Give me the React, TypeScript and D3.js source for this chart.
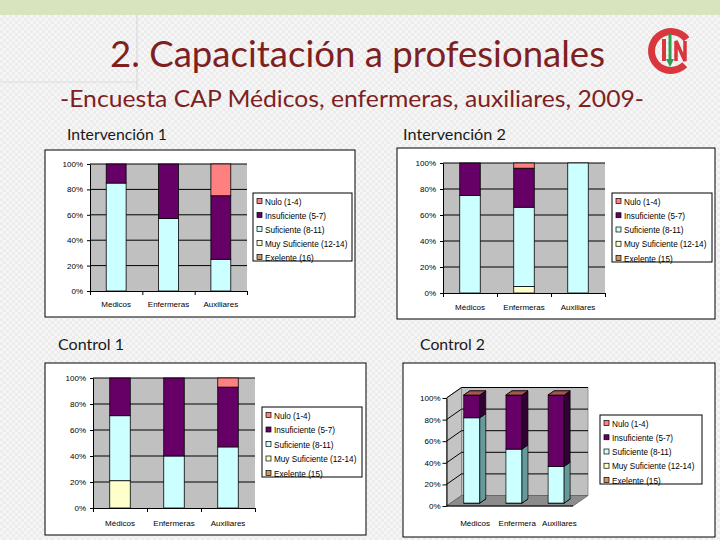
import { useEffect, useRef } from "react";
import * as d3 from "d3";

// stack order, bottom -> top (Excel series order)
const levelKeys = ["exelente", "muySuficiente", "suficiente", "insuficiente", "nulo"];
const levelColors = ["#cc9966", "#ffffcc", "#ccffff", "#660066", "#ff8080"];
const sideColors = ["#8f6b47", "#b3b38f", "#669999", "#330033", "#b35959"];
const topColors = ["#b38659", "#e6e6b8", "#99cccc", "#4d004d", "#a85454"];

// legend reads top -> bottom: Nulo first
const legendLabels1 = ["Nulo (1-4)", "Insuficiente (5-7)", "Suficiente (8-11)", "Muy Suficiente (12-14)", "Exelente (16)"];
const legendLabels = ["Nulo (1-4)", "Insuficiente (5-7)", "Suficiente (8-11)", "Muy Suficiente (12-14)", "Exelente (15)"];

const categories1 = ["Medicos", "Enfermeras", "Auxiliares"];
const categories2 = ["Médicos", "Enfermeras", "Auxiliares"];
const categories4 = ["Médicos", "Enfermera", "Auxiliares"];
const yTicks = [0, 20, 40, 60, 80, 100];

// Intervención 1 (%)
const int1Exelente = [0, 0, 0];
const int1MuySuf = [0, 0, 0];
const int1Suf = [85, 57, 25];
const int1Insuf = [15, 43, 50];
const int1Nulo = [0, 0, 25];

// Intervención 2 (%)
const int2Exelente = [0, 0, 0];
const int2MuySuf = [0, 5, 0];
const int2Suf = [75, 61, 100];
const int2Insuf = [25, 30, 0];
const int2Nulo = [0, 4, 0];

// Control 1 (%)
const ctl1Exelente = [0, 0, 0];
const ctl1MuySuf = [21, 0, 0];
const ctl1Suf = [50, 40, 47];
const ctl1Insuf = [29, 60, 46];
const ctl1Nulo = [0, 0, 7];

// Control 2 (%)
const ctl2Exelente = [0, 0, 0];
const ctl2MuySuf = [0, 0, 0];
const ctl2Suf = [79, 50, 34];
const ctl2Insuf = [21, 50, 66];
const ctl2Nulo = [0, 0, 0];

const chartFont = "'Liberation Sans', Arial, sans-serif";
const titleFont = "Lato, 'Open Sans', sans-serif";

type Box = { x: number; y: number; w: number; h: number };

function stackOf(categories: string[], series: number[][]) {
  const rows = categories.map((c, i) => {
    const r: any = { cat: c };
    levelKeys.forEach((k, j) => (r[k] = series[j][i]));
    return r;
  });
  return d3.stack<any>().keys(levelKeys)(rows);
}

function drawLegend(svg: any, box: Box, labels: string[]) {
  const g = svg.append("g");
  g.append("rect")
    .attr("x", box.x).attr("y", box.y).attr("width", box.w).attr("height", box.h)
    .attr("fill", "#fff").attr("stroke", "#000").attr("stroke-width", 1);
  const step = (box.h - 12) / 4;
  labels.forEach((lab, i) => {
    const cy = box.y + 8.5 + i * step;
    g.append("rect")
      .attr("x", box.x + 4).attr("y", cy - 3).attr("width", 5).attr("height", 5)
      .attr("fill", levelColors[levelKeys.length - 1 - i]).attr("stroke", "#000").attr("stroke-width", 0.7);
    g.append("text")
      .attr("x", box.x + 12).attr("y", cy + 3)
      .attr("font-family", chartFont).attr("font-size", 8.2).attr("fill", "#000")
      .text(lab);
  });
}

function drawTitle(svg: any, t: { text: string; x: number; y: number; len: number }) {
  svg.append("text")
    .attr("x", t.x).attr("y", t.y)
    .attr("font-family", titleFont).attr("font-size", 15).attr("fill", "#1a1a1a")
    .attr("textLength", t.len).attr("lengthAdjust", "spacingAndGlyphs")
    .text(t.text);
}

function drawFlat(svg: any, cfg: any) {
  const { panel, plot, legend, title, categories, series, labels, labelY } = cfg;
  svg.append("rect")
    .attr("x", panel.x).attr("y", panel.y).attr("width", panel.w).attr("height", panel.h)
    .attr("fill", "#fff").attr("stroke", "#000").attr("stroke-width", 1);
  drawTitle(svg, title);

  const x = d3.scaleBand().domain(categories).range([plot.x, plot.x + plot.w]).paddingInner(0.62).paddingOuter(0.31);
  const y = d3.scaleLinear().domain([0, 100]).range([plot.y + plot.h, plot.y]);

  svg.append("rect")
    .attr("x", plot.x).attr("y", plot.y).attr("width", plot.w).attr("height", plot.h)
    .attr("fill", "#c0c0c0");

  svg.append("g").selectAll("line")
    .data(yTicks.filter((t) => t > 0))
    .join("line")
    .attr("x1", plot.x).attr("x2", plot.x + plot.w)
    .attr("y1", (d: number) => y(d)).attr("y2", (d: number) => y(d))
    .attr("stroke", "#000").attr("stroke-width", 1);

  const stacked = stackOf(categories, series);
  stacked.forEach((layer: any, li: number) => {
    svg.append("g").selectAll("rect")
      .data(layer.filter((d: any) => d[1] - d[0] > 0))
      .join("rect")
      .attr("x", (d: any) => x(d.data.cat))
      .attr("width", x.bandwidth())
      .attr("y", (d: any) => y(d[1]))
      .attr("height", (d: any) => y(d[0]) - y(d[1]))
      .attr("fill", levelColors[li])
      .attr("stroke", "#000").attr("stroke-width", 0.8);
  });

  const gy = svg.append("g")
    .attr("transform", `translate(${plot.x},0)`)
    .call(d3.axisLeft(y).tickValues(yTicks).tickSize(3).tickSizeOuter(0).tickPadding(4).tickFormat((d: any) => `${d}%`));
  gy.attr("font-family", chartFont).attr("font-size", 8);
  gy.select(".domain").attr("stroke", "#000");
  gy.selectAll(".tick line").attr("stroke", "#000");
  gy.selectAll("text").attr("fill", "#000");

  const n = categories.length;
  const xb = d3.scaleLinear().domain([0, n]).range([plot.x, plot.x + plot.w]);
  const gx = svg.append("g")
    .attr("transform", `translate(0,${plot.y + plot.h})`)
    .call(d3.axisBottom(xb).tickValues(d3.range(n + 1)).tickSize(4).tickSizeOuter(0).tickFormat(() => ""));
  gx.select(".domain").attr("stroke", "#000");
  gx.selectAll(".tick line").attr("stroke", "#000");

  svg.append("g").selectAll("text")
    .data(categories)
    .join("text")
    .attr("x", (d: string) => (x(d) as number) + x.bandwidth() / 2)
    .attr("y", labelY)
    .attr("text-anchor", "middle")
    .attr("font-family", chartFont).attr("font-size", 8).attr("fill", "#000")
    .text((d: string) => d);

  drawLegend(svg, legend, labels);
}

function draw3D(svg: any, cfg: any) {
  const { panel, front, depth, legend, title, categories, series, labels, labelY } = cfg;
  svg.append("rect")
    .attr("x", panel.x).attr("y", panel.y).attr("width", panel.w).attr("height", panel.h)
    .attr("fill", "#fff").attr("stroke", "#000").attr("stroke-width", 1);
  drawTitle(svg, title);

  const x = d3.scaleBand().domain(categories).range([front.x, front.x + front.w]).paddingInner(0.62).paddingOuter(0.31);
  const y = d3.scaleLinear().domain([0, 100]).range([front.y + front.h, front.y]);
  const x0 = front.x, x1 = front.x + front.w, yb = y(0), yt = y(100);
  const dx = depth.x, dy = depth.y;
  const pts = (p: number[][]) => p.map((q) => q.join(",")).join(" ");

  // back wall, left wall, floor
  svg.append("polygon")
    .attr("points", pts([[x0 + dx, yt + dy], [x1 + dx, yt + dy], [x1 + dx, yb + dy], [x0 + dx, yb + dy]]))
    .attr("fill", "#c0c0c0").attr("stroke", "#808080").attr("stroke-width", 0.8);
  svg.append("polygon")
    .attr("points", pts([[x0, yb], [x0, yt], [x0 + dx, yt + dy], [x0 + dx, yb + dy]]))
    .attr("fill", "#c4c4c4").attr("stroke", "#808080").attr("stroke-width", 0.8);
  svg.append("polygon")
    .attr("points", pts([[x0, yb], [x1, yb], [x1 + dx, yb + dy], [x0 + dx, yb + dy]]))
    .attr("fill", "#8c8c8c").attr("stroke", "#606060").attr("stroke-width", 0.8);

  const grid = svg.append("g");
  yTicks.filter((t) => t > 0).forEach((t) => {
    grid.append("line")
      .attr("x1", x0 + dx).attr("x2", x1 + dx).attr("y1", y(t) + dy).attr("y2", y(t) + dy)
      .attr("stroke", "#000").attr("stroke-width", 1);
    grid.append("line")
      .attr("x1", x0).attr("x2", x0 + dx).attr("y1", y(t)).attr("y2", y(t) + dy)
      .attr("stroke", "#000").attr("stroke-width", 1);
  });

  const f0 = 0.28, f1 = 0.68;
  const ox = f0 * dx, oy = f0 * dy;
  const ddx = (f1 - f0) * dx, ddy = (f1 - f0) * dy;
  const bw = x.bandwidth();
  const stacked = stackOf(categories, series);
  categories.forEach((c: string, ci: number) => {
    const bx0 = (x(c) as number) + ox;
    const bx1 = bx0 + bw;
    stacked.forEach((layer: any, li: number) => {
      const d = layer[ci];
      const ya = y(d[0]) + oy;
      const yz = y(d[1]) + oy;
      if (d[1] - d[0] > 0) {
        svg.append("rect")
          .attr("x", bx0).attr("y", yz).attr("width", bw).attr("height", ya - yz)
          .attr("fill", levelColors[li]).attr("stroke", "#000").attr("stroke-width", 0.7);
        svg.append("polygon")
          .attr("points", pts([[bx1, ya], [bx1 + ddx, ya + ddy], [bx1 + ddx, yz + ddy], [bx1, yz]]))
          .attr("fill", sideColors[li]).attr("stroke", "#000").attr("stroke-width", 0.7);
      }
      svg.append("polygon")
        .attr("points", pts([[bx0, yz], [bx1, yz], [bx1 + ddx, yz + ddy], [bx0 + ddx, yz + ddy]]))
        .attr("fill", topColors[li]).attr("stroke", "#000").attr("stroke-width", 0.7);
    });
  });

  const gy = svg.append("g")
    .attr("transform", `translate(${x0},0)`)
    .call(d3.axisLeft(y).tickValues(yTicks).tickSize(4).tickSizeOuter(0).tickPadding(2).tickFormat((d: any) => `${d}%`));
  gy.attr("font-family", chartFont).attr("font-size", 8);
  gy.select(".domain").attr("stroke", "#000");
  gy.selectAll(".tick line").attr("stroke", "#000");
  gy.selectAll("text").attr("fill", "#000");

  svg.append("line")
    .attr("x1", x0).attr("x2", x1).attr("y1", yb).attr("y2", yb)
    .attr("stroke", "#000").attr("stroke-width", 1);

  svg.append("g").selectAll("text")
    .data(categories)
    .join("text")
    .attr("x", (d: string) => (x(d) as number) + bw / 2 + dx / 2)
    .attr("y", labelY)
    .attr("text-anchor", "middle")
    .attr("font-family", chartFont).attr("font-size", 8).attr("fill", "#000")
    .text((d: string) => d);

  drawLegend(svg, legend, labels);
}

export default function App() {
  const svgRef = useRef<SVGSVGElement>(null);

  useEffect(() => {
    if (!svgRef.current) return;
    const svg = d3.select(svgRef.current);
    svg.selectAll("*").remove();

    // slide background
    const defs = svg.append("defs");
    const pat = defs.append("pattern").attr("id", "bgp").attr("width", 6).attr("height", 6).attr("patternUnits", "userSpaceOnUse");
    pat.append("rect").attr("width", 6).attr("height", 6).attr("fill", "#f6f6f6");
    pat.append("rect").attr("width", 3).attr("height", 3).attr("fill", "#ececec");
    pat.append("rect").attr("x", 3).attr("y", 3).attr("width", 3).attr("height", 3).attr("fill", "#ececec");
    svg.append("rect").attr("width", 720).attr("height", 540).attr("fill", "url(#bgp)");
    svg.append("rect").attr("width", 720).attr("height", 15).attr("fill", "#d7e4bd");
    svg.append("line").attr("x1", 137).attr("x2", 137).attr("y1", 15).attr("y2", 90).attr("stroke", "#d4d4d4");
    svg.append("line").attr("x1", 0).attr("x2", 137).attr("y1", 82).attr("y2", 82).attr("stroke", "#dcdcdc");

    // headings
    svg.append("text")
      .attr("x", 110).attr("y", 67)
      .attr("font-family", titleFont).attr("font-size", 36).attr("fill", "#7f1f1f")
      .attr("textLength", 495).attr("lengthAdjust", "spacingAndGlyphs")
      .text("2. Capacitación a profesionales");
    svg.append("text")
      .attr("x", 60).attr("y", 107)
      .attr("font-family", titleFont).attr("font-size", 24).attr("fill", "#7f1f1f")
      .attr("textLength", 584).attr("lengthAdjust", "spacingAndGlyphs")
      .text("-Encuesta CAP Médicos, enfermeras, auxiliares, 2009-");

    // logo
    const logo = svg.append("g").attr("transform", "translate(671,51)");
    logo.append("path")
      .attr("d", d3.arc()({ innerRadius: 16, outerRadius: 23, startAngle: (135 * Math.PI) / 180, endAngle: (413 * Math.PI) / 180 }) as string)
      .attr("fill", "#d9363e");
    logo.append("rect").attr("x", -9).attr("y", -12).attr("width", 4).attr("height", 22).attr("fill", "#d9363e");
    logo.append("path").attr("d", "M5,10 V-10 L14,10 V-10").attr("fill", "none").attr("stroke", "#d9363e").attr("stroke-width", 3.5);
    logo.append("line").attr("x1", -1).attr("x2", -1).attr("y1", -17).attr("y2", 10).attr("stroke", "#2f9e4f").attr("stroke-width", 3);
    logo.append("polygon").attr("points", "-5,8 3,8 -1,16").attr("fill", "#2f9e4f");

    drawFlat(svg, {
      panel: { x: 45, y: 150, w: 310, h: 167 },
      plot: { x: 90, y: 164, w: 157, h: 127 },
      legend: { x: 253, y: 193, w: 99, h: 68 },
      title: { text: "Intervención 1", x: 67, y: 140, len: 100 },
      categories: categories1,
      series: [int1Exelente, int1MuySuf, int1Suf, int1Insuf, int1Nulo],
      labels: legendLabels1,
      labelY: 307,
    });

    drawFlat(svg, {
      panel: { x: 397, y: 148, w: 318, h: 171 },
      plot: { x: 443, y: 163, w: 162, h: 130 },
      legend: { x: 612, y: 193, w: 100, h: 69 },
      title: { text: "Intervención 2", x: 403, y: 140, len: 103 },
      categories: categories2,
      series: [int2Exelente, int2MuySuf, int2Suf, int2Insuf, int2Nulo],
      labels: legendLabels,
      labelY: 310,
    });

    drawFlat(svg, {
      panel: { x: 45, y: 363, w: 321, h: 172 },
      plot: { x: 93, y: 378, w: 162, h: 130 },
      legend: { x: 262, y: 407, w: 100, h: 70 },
      title: { text: "Control 1", x: 58, y: 350, len: 66 },
      categories: categories2,
      series: [ctl1Exelente, ctl1MuySuf, ctl1Suf, ctl1Insuf, ctl1Nulo],
      labels: legendLabels,
      labelY: 526,
    });

    draw3D(svg, {
      panel: { x: 403, y: 363, w: 312, h: 174 },
      front: { x: 446.5, y: 398, w: 126.5, h: 108 },
      depth: { x: 15, y: -10.5 },
      legend: { x: 600, y: 415, w: 102, h: 69 },
      title: { text: "Control 2", x: 420, y: 350, len: 65 },
      categories: categories4,
      series: [ctl2Exelente, ctl2MuySuf, ctl2Suf, ctl2Insuf, ctl2Nulo],
      labels: legendLabels,
      labelY: 526,
    });
  }, []);

  return (
    <svg
      ref={svgRef}
      width={720}
      height={540}
      viewBox="0 0 720 540"
      style={{ position: "absolute", left: 0, top: 0, display: "block" }}
    />
  );
}
